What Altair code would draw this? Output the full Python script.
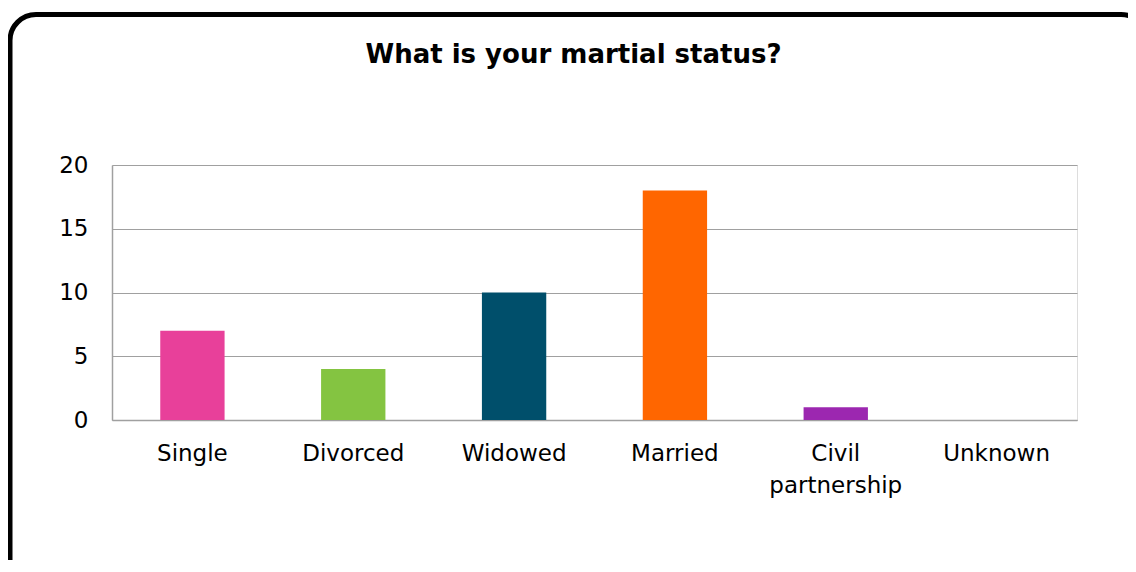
import altair as alt
import pandas as pd

categories = ["Single", "Divorced", "Widowed", "Married", "Civil partnership", "Unknown"]
counts = [7, 4, 10, 18, 1, 0]
colors = ["#E8409A", "#84C441", "#004F6B", "#FF6600", "#9C27B0", "#888888"]

df = pd.DataFrame({"status": categories, "count": counts})

FONT = "DejaVu Sans"

bars = alt.Chart(df).mark_bar().encode(
    x=alt.X(
        "status:N",
        sort=categories,
        scale=alt.Scale(paddingInner=0.6, paddingOuter=0.3),
        axis=alt.Axis(
            title=None,
            labelAngle=0,
            labelFontSize=23,
            labelFont=FONT,
            labelColor="black",
            labelPadding=22,
            labelLineHeight=32,
            labelExpr="datum.value == 'Civil partnership' ? ['Civil', 'partnership'] : datum.value",
            ticks=False,
            domain=True,
            domainColor="#A0A0A0",
            domainWidth=1.5,
            grid=False,
        ),
    ),
    y=alt.Y(
        "count:Q",
        scale=alt.Scale(domain=[0, 20]),
        axis=alt.Axis(
            title=None,
            values=[0, 5, 10, 15, 20],
            labelFontSize=23,
            labelFont=FONT,
            labelColor="black",
            labelPadding=24,
            ticks=False,
            domain=True,
            domainColor="#A0A0A0",
            domainWidth=1.5,
            grid=True,
            gridColor="#A0A0A0",
            gridWidth=1.2,
        ),
    ),
    color=alt.Color("status:N", sort=categories,
                    scale=alt.Scale(domain=categories, range=colors), legend=None),
)

frame_df = pd.DataFrame({"k": [0]})
frame = alt.Chart(frame_df).mark_rect(
    filled=False, stroke="black", strokeWidth=5, cornerRadius=26
).encode(
    x=alt.value(-102),
    x2=alt.value(1035),
    y=alt.value(-150.5),
    y2=alt.value(420),
)

chart = alt.layer(bars, frame).properties(
    width=965,
    height=255,
    title=alt.TitleParams(
        "What is your martial status?",
        fontSize=26,
        font=FONT,
        fontWeight="bold",
        color="black",
        anchor="middle",
        dx=-21,
        offset=-56,
    ),
    autosize=alt.AutoSizeParams(type="none"),
    padding={"left": 104, "top": 157, "right": 51, "bottom": 140},
).configure_view(strokeWidth=0).configure(background="white")

chart.save("out.html", embed_options={"renderer": "svg", "actions": False})
